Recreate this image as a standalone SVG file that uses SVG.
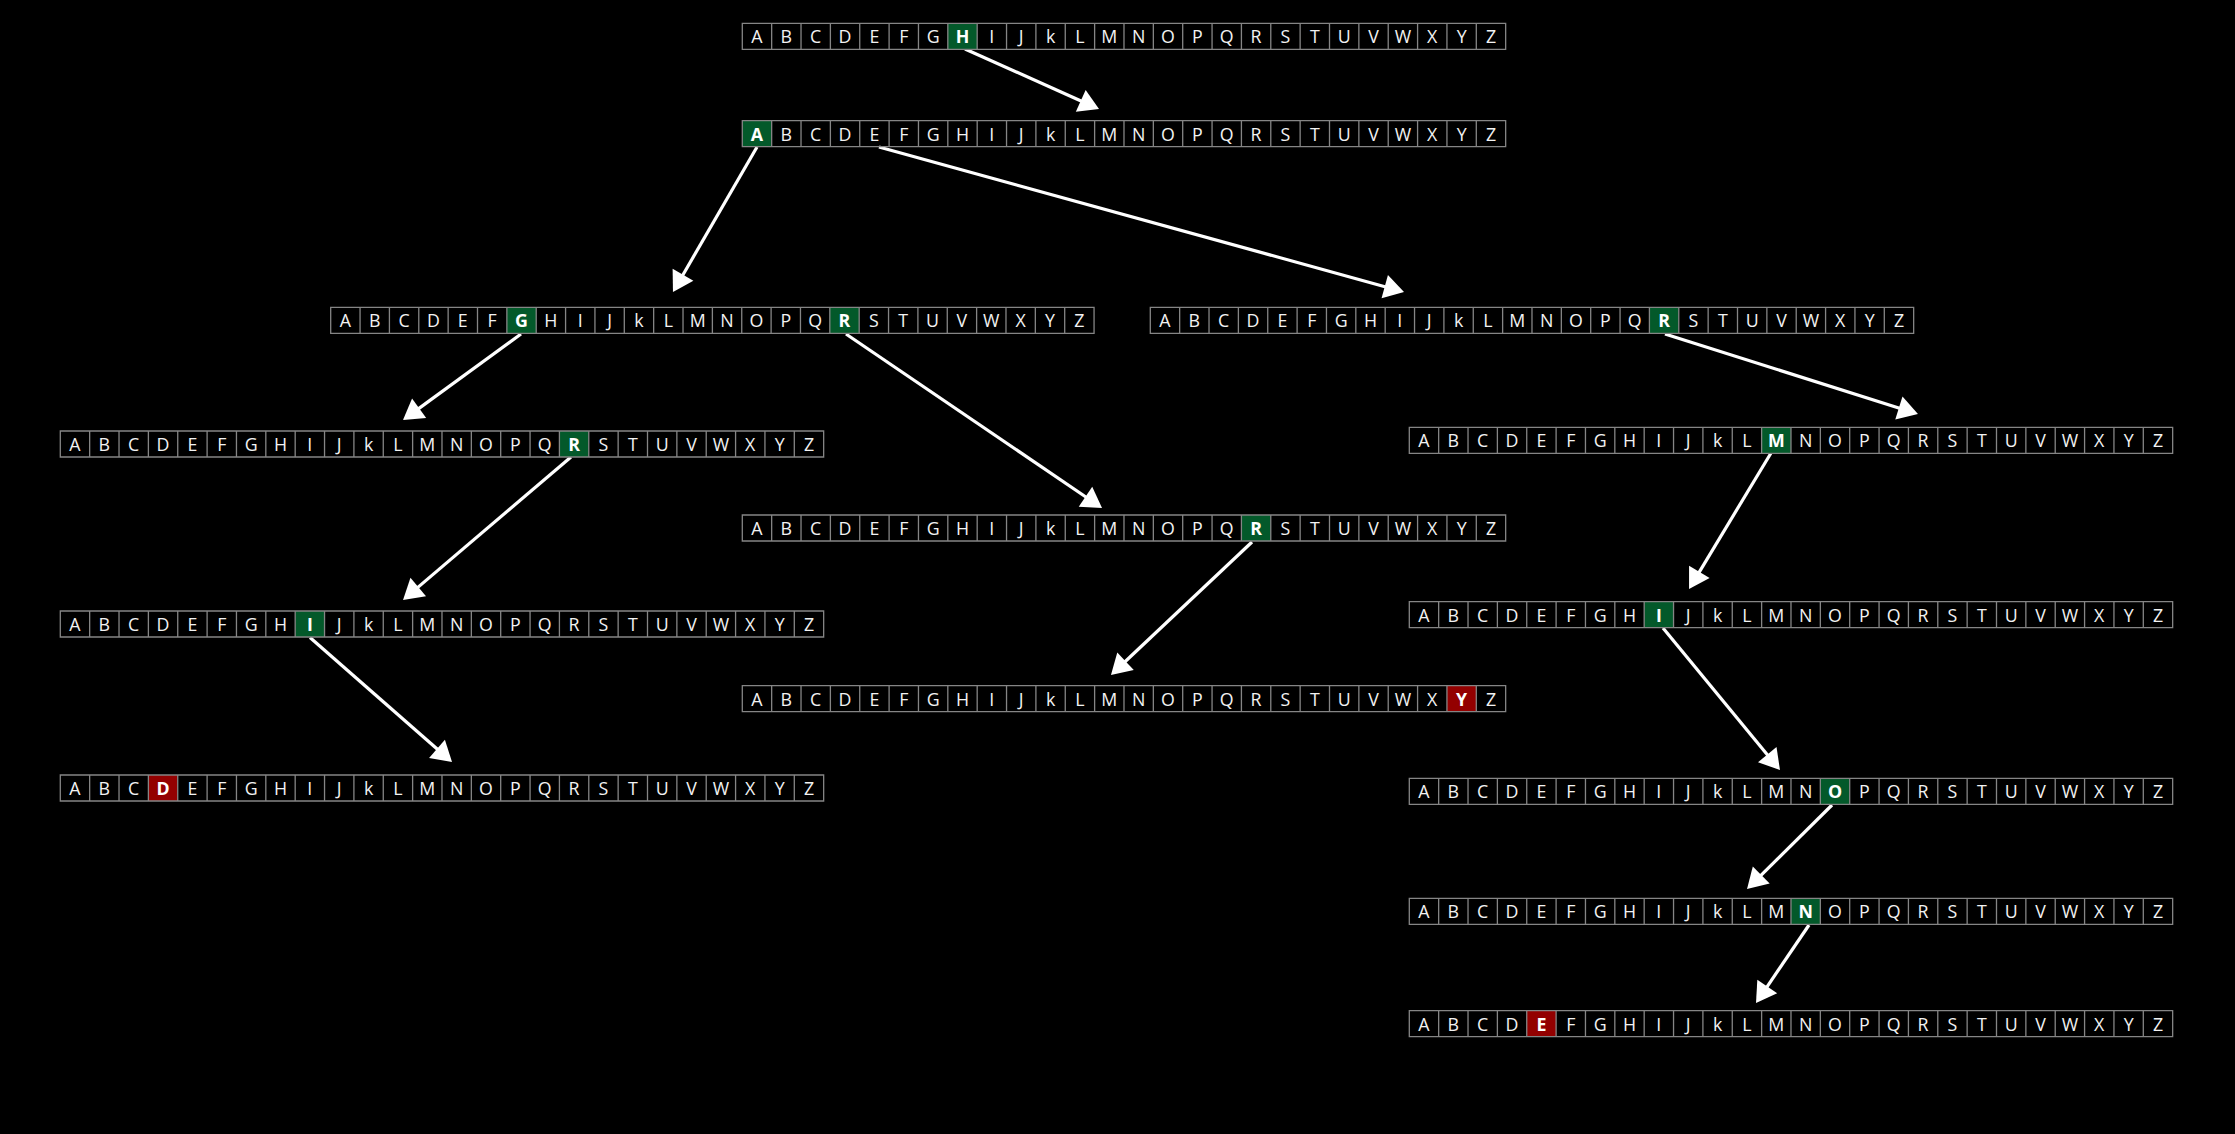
<svg xmlns="http://www.w3.org/2000/svg" xmlns:xlink="http://www.w3.org/1999/xlink" width="2235" height="1134" viewBox="0 0 2235 1134">
<style>
.lt{font-family:"Open Sans","Noto Sans","DejaVu Sans",sans-serif;font-size:17.8px;fill:#f2f2f2;text-anchor:middle}
.b{font-weight:bold;fill:#ffffff}
.g{fill:#03592a}
.r{fill:#930000}
.grid{fill:none;stroke:#858585;stroke-width:1.3}
.arr{stroke:#ffffff;stroke-width:3.2;fill:none;marker-end:url(#ah)}
</style>
<defs>
<marker id="ah" markerUnits="userSpaceOnUse" markerWidth="20" markerHeight="24" refX="4" refY="12" orient="auto" overflow="visible">
<path d="M0,0 L20,12 L0,24 Z" fill="#ffffff"/>
</marker>
<path id="grid" class="grid" d="M0,0H763.36V26H0Z M29.36,0v26 M58.72,0v26 M88.08,0v26 M117.44,0v26 M146.8,0v26 M176.16,0v26 M205.52,0v26 M234.88,0v26 M264.24,0v26 M293.6,0v26 M322.96,0v26 M352.32,0v26 M381.68,0v26 M411.04,0v26 M440.4,0v26 M469.76,0v26 M499.12,0v26 M528.48,0v26 M557.84,0v26 M587.2,0v26 M616.56,0v26 M645.92,0v26 M675.28,0v26 M704.64,0v26 M734,0v26"/>
</defs>
<rect x="0" y="0" width="2235" height="1134" fill="#000000"/>

<g id="connectors">
<line class="arr" x1="965" y1="49" x2="1084.4" y2="102.5"/>
<line class="arr" x1="757" y1="147" x2="681" y2="278.2"/>
<line class="arr" x1="879" y1="147" x2="1388.6" y2="287.7"/>
<line class="arr" x1="521" y1="334" x2="415.9" y2="410.6"/>
<line class="arr" x1="846" y1="334" x2="1088.8" y2="499"/>
<line class="arr" x1="1665" y1="334" x2="1902.7" y2="409.2"/>
<line class="arr" x1="571" y1="457" x2="415.2" y2="589.6"/>
<line class="arr" x1="310" y1="637.5" x2="440" y2="751.5"/>
<line class="arr" x1="1252" y1="542" x2="1122.6" y2="664"/>
<line class="arr" x1="1771" y1="453" x2="1697.3" y2="575.3"/>
<line class="arr" x1="1663" y1="628" x2="1769.8" y2="757.7"/>
<line class="arr" x1="1832" y1="805" x2="1758.4" y2="877.8"/>
<line class="arr" x1="1809" y1="925" x2="1765" y2="989.8"/>
</g>

<g id="row1" transform="translate(742.3,23.3)">
<rect class="g" x="205.52" y="0" width="29.36" height="26"/>
<use xlink:href="#grid" href="#grid"/>
<text class="lt" y="20" x="14.68 44.04 73.4 102.76 132.12 161.48 190.84 220.2 249.56 278.92 308.28 337.64 367 396.36 425.72 455.08 484.44 513.8 543.16 572.52 601.88 631.24 660.6 689.96 719.32 748.68">ABCDEFG<tspan class="b">H</tspan>IJkLMNOPQRSTUVWXYZ</text>
</g>

<g id="row2" transform="translate(742.3,120.7)">
<rect class="g" x="0" y="0" width="29.36" height="26"/>
<use xlink:href="#grid" href="#grid"/>
<text class="lt" y="20" x="14.68 44.04 73.4 102.76 132.12 161.48 190.84 220.2 249.56 278.92 308.28 337.64 367 396.36 425.72 455.08 484.44 513.8 543.16 572.52 601.88 631.24 660.6 689.96 719.32 748.68"><tspan class="b">A</tspan>BCDEFGHIJkLMNOPQRSTUVWXYZ</text>
</g>

<g id="row3a" transform="translate(330.7,307.3)">
<rect class="g" x="176.16" y="0" width="29.36" height="26"/>
<rect class="g" x="499.12" y="0" width="29.36" height="26"/>
<use xlink:href="#grid" href="#grid"/>
<text class="lt" y="20" x="14.68 44.04 73.4 102.76 132.12 161.48 190.84 220.2 249.56 278.92 308.28 337.64 367 396.36 425.72 455.08 484.44 513.8 543.16 572.52 601.88 631.24 660.6 689.96 719.32 748.68">ABCDEF<tspan class="b">G</tspan>HIJkLMNOPQ<tspan class="b">R</tspan>STUVWXYZ</text>
</g>

<g id="row3b" transform="translate(1150.3,307.3)">
<rect class="g" x="499.12" y="0" width="29.36" height="26"/>
<use xlink:href="#grid" href="#grid"/>
<text class="lt" y="20" x="14.68 44.04 73.4 102.76 132.12 161.48 190.84 220.2 249.56 278.92 308.28 337.64 367 396.36 425.72 455.08 484.44 513.8 543.16 572.52 601.88 631.24 660.6 689.96 719.32 748.68">ABCDEFGHIJkLMNOPQ<tspan class="b">R</tspan>STUVWXYZ</text>
</g>

<g id="row4a" transform="translate(60.3,431)">
<rect class="g" x="499.12" y="0" width="29.36" height="26"/>
<use xlink:href="#grid" href="#grid"/>
<text class="lt" y="20" x="14.68 44.04 73.4 102.76 132.12 161.48 190.84 220.2 249.56 278.92 308.28 337.64 367 396.36 425.72 455.08 484.44 513.8 543.16 572.52 601.88 631.24 660.6 689.96 719.32 748.68">ABCDEFGHIJkLMNOPQ<tspan class="b">R</tspan>STUVWXYZ</text>
</g>

<g id="row4b" transform="translate(1409.3,427.3)">
<rect class="g" x="352.32" y="0" width="29.36" height="26"/>
<use xlink:href="#grid" href="#grid"/>
<text class="lt" y="20" x="14.68 44.04 73.4 102.76 132.12 161.48 190.84 220.2 249.56 278.92 308.28 337.64 367 396.36 425.72 455.08 484.44 513.8 543.16 572.52 601.88 631.24 660.6 689.96 719.32 748.68">ABCDEFGHIJkL<tspan class="b">M</tspan>NOPQRSTUVWXYZ</text>
</g>

<g id="row4c" transform="translate(742.3,515)">
<rect class="g" x="499.12" y="0" width="29.36" height="26"/>
<use xlink:href="#grid" href="#grid"/>
<text class="lt" y="20" x="14.68 44.04 73.4 102.76 132.12 161.48 190.84 220.2 249.56 278.92 308.28 337.64 367 396.36 425.72 455.08 484.44 513.8 543.16 572.52 601.88 631.24 660.6 689.96 719.32 748.68">ABCDEFGHIJkLMNOPQ<tspan class="b">R</tspan>STUVWXYZ</text>
</g>

<g id="row5a" transform="translate(60.3,611)">
<rect class="g" x="234.88" y="0" width="29.36" height="26"/>
<use xlink:href="#grid" href="#grid"/>
<text class="lt" y="20" x="14.68 44.04 73.4 102.76 132.12 161.48 190.84 220.2 249.56 278.92 308.28 337.64 367 396.36 425.72 455.08 484.44 513.8 543.16 572.52 601.88 631.24 660.6 689.96 719.32 748.68">ABCDEFGH<tspan class="b">I</tspan>JkLMNOPQRSTUVWXYZ</text>
</g>

<g id="row5b" transform="translate(1409.3,601.7)">
<rect class="g" x="234.88" y="0" width="29.36" height="26"/>
<use xlink:href="#grid" href="#grid"/>
<text class="lt" y="20" x="14.68 44.04 73.4 102.76 132.12 161.48 190.84 220.2 249.56 278.92 308.28 337.64 367 396.36 425.72 455.08 484.44 513.8 543.16 572.52 601.88 631.24 660.6 689.96 719.32 748.68">ABCDEFGH<tspan class="b">I</tspan>JkLMNOPQRSTUVWXYZ</text>
</g>

<g id="row5c" transform="translate(742.3,685.7)">
<rect class="r" x="704.64" y="0" width="29.36" height="26"/>
<use xlink:href="#grid" href="#grid"/>
<text class="lt" y="20" x="14.68 44.04 73.4 102.76 132.12 161.48 190.84 220.2 249.56 278.92 308.28 337.64 367 396.36 425.72 455.08 484.44 513.8 543.16 572.52 601.88 631.24 660.6 689.96 719.32 748.68">ABCDEFGHIJkLMNOPQRSTUVWX<tspan class="b">Y</tspan>Z</text>
</g>

<g id="row6a" transform="translate(60.3,775)">
<rect class="r" x="88.08" y="0" width="29.36" height="26"/>
<use xlink:href="#grid" href="#grid"/>
<text class="lt" y="20" x="14.68 44.04 73.4 102.76 132.12 161.48 190.84 220.2 249.56 278.92 308.28 337.64 367 396.36 425.72 455.08 484.44 513.8 543.16 572.52 601.88 631.24 660.6 689.96 719.32 748.68">ABC<tspan class="b">D</tspan>EFGHIJkLMNOPQRSTUVWXYZ</text>
</g>

<g id="row6b" transform="translate(1409.3,778.3)">
<rect class="g" x="411.04" y="0" width="29.36" height="26"/>
<use xlink:href="#grid" href="#grid"/>
<text class="lt" y="20" x="14.68 44.04 73.4 102.76 132.12 161.48 190.84 220.2 249.56 278.92 308.28 337.64 367 396.36 425.72 455.08 484.44 513.8 543.16 572.52 601.88 631.24 660.6 689.96 719.32 748.68">ABCDEFGHIJkLMN<tspan class="b">O</tspan>PQRSTUVWXYZ</text>
</g>

<g id="row7b" transform="translate(1409.3,898.3)">
<rect class="g" x="381.68" y="0" width="29.36" height="26"/>
<use xlink:href="#grid" href="#grid"/>
<text class="lt" y="20" x="14.68 44.04 73.4 102.76 132.12 161.48 190.84 220.2 249.56 278.92 308.28 337.64 367 396.36 425.72 455.08 484.44 513.8 543.16 572.52 601.88 631.24 660.6 689.96 719.32 748.68">ABCDEFGHIJkLM<tspan class="b">N</tspan>OPQRSTUVWXYZ</text>
</g>

<g id="row8b" transform="translate(1409.3,1010.7)">
<rect class="r" x="117.44" y="0" width="29.36" height="26"/>
<use xlink:href="#grid" href="#grid"/>
<text class="lt" y="20" x="14.68 44.04 73.4 102.76 132.12 161.48 190.84 220.2 249.56 278.92 308.28 337.64 367 396.36 425.72 455.08 484.44 513.8 543.16 572.52 601.88 631.24 660.6 689.96 719.32 748.68">ABCD<tspan class="b">E</tspan>FGHIJkLMNOPQRSTUVWXYZ</text>
</g>
</svg>
